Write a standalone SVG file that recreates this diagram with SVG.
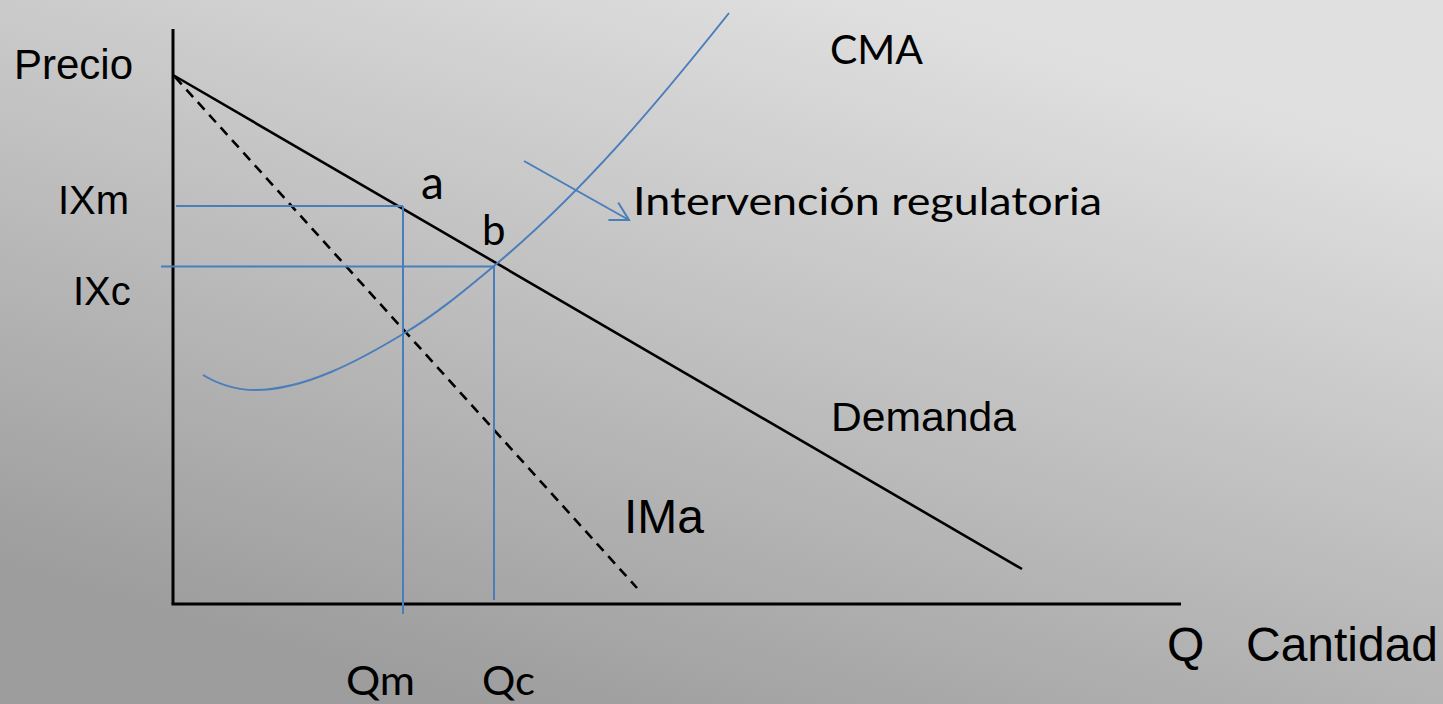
<svg xmlns="http://www.w3.org/2000/svg" width="1443" height="704" viewBox="0 0 1443 704">
  <style>
    .axis { stroke: #000; stroke-width: 3; fill: none; }
    .dem { stroke: #000; stroke-width: 2.6; fill: none; }
    .ima { stroke: #000; stroke-width: 2.6; fill: none; stroke-dasharray: 10 7; }
    .blue { stroke: #4a7ebb; stroke-width: 2; fill: none; }
    .arial { font-family: "Liberation Sans", Arial, sans-serif; fill: #000; }
    .cal { font-family: Lato, "Open Sans", sans-serif; fill: #000; }
  </style>
  <defs>
    <linearGradient id="bg" gradientUnits="userSpaceOnUse" x1="900" y1="0" x2="680" y2="760">
      <stop offset="0" stop-color="#e0e0e0"/>
      <stop offset="1" stop-color="#9d9d9d"/>
    </linearGradient>
    <marker id="open" markerUnits="userSpaceOnUse" viewBox="-22 -12 24 24" markerWidth="24" markerHeight="24" refX="0" refY="0" orient="auto">
      <path d="M-18,-10 L0,0 L-18,10" fill="none" stroke="#4a7ebb" stroke-width="2"/>
    </marker>
  </defs>
  <rect x="0" y="0" width="1443" height="704" fill="url(#bg)"/>

  <g id="connectors">
    <path id="axis-y" class="axis" d="M173,29 L173,604"/>
    <path id="axis-x" class="axis" d="M171.5,604 L1181,604"/>
    <path id="demanda-line" class="dem" d="M173,75 L1022,569"/>
    <path id="ima-line" class="ima" d="M175,77 L637,588"/>
    <path id="ixm-h" class="blue" d="M176,206 L403,206"/>
    <path id="qm-v" class="blue" d="M403,206 L403,614"/>
    <path id="ixc-h" class="blue" d="M161,266.5 L495,266.5"/>
    <path id="qc-v" class="blue" d="M494,265 L494,600"/>
    <path id="cma-curve" class="blue" d="M203,375 C218,384 235,390 255,390 C305,390 360,360 403,334 C435,315 463,292 494,266 C584,191 659,101 729,13"/>
    <path id="intervencion-arrow" class="blue" d="M524,161 L629,220" marker-end="url(#open)"/>
  </g>

  <g id="label-precio"><text class="arial" x="14" y="79" font-size="42">Precio</text></g>
  <g id="label-ixm"><text class="arial" x="58" y="214" font-size="40">IXm</text></g>
  <g id="label-ixc"><text class="arial" x="73" y="305" font-size="40">IXc</text></g>
  <g id="label-a"><text class="cal" x="421" y="199" font-size="46">a</text></g>
  <g id="label-b"><text class="cal" x="482" y="245" font-size="42">b</text></g>
  <g id="label-cma"><text class="cal" x="830" y="64" font-size="40.5" textLength="93" lengthAdjust="spacingAndGlyphs">CMA</text></g>
  <g id="label-intervencion"><text class="cal" x="633" y="215" font-size="39.5" textLength="469" lengthAdjust="spacingAndGlyphs">Intervención regulatoria</text></g>
  <g id="label-demanda"><text class="arial" x="831" y="431" font-size="40" textLength="185" lengthAdjust="spacingAndGlyphs">Demanda</text></g>
  <g id="label-ima"><text class="arial" x="624" y="533" font-size="48" textLength="80" lengthAdjust="spacingAndGlyphs">IMa</text></g>
  <g id="label-qm"><text class="cal" x="346" y="695" font-size="41" textLength="69" lengthAdjust="spacingAndGlyphs">Qm</text></g>
  <g id="label-qc"><text class="cal" x="482" y="695" font-size="41" textLength="53" lengthAdjust="spacingAndGlyphs">Qc</text></g>
  <g id="label-cantidad"><text class="arial" y="661" font-size="48"><tspan x="1167">Q</tspan><tspan x="1246" textLength="192" lengthAdjust="spacingAndGlyphs">Cantidad</tspan></text></g>
</svg>
